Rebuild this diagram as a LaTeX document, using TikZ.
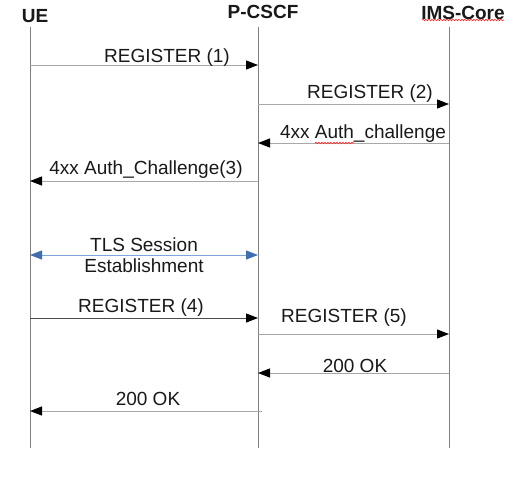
\documentclass[tikz,border=0pt]{standalone}
\usepackage{fontspec}
\setmainfont{Liberation Sans}
\usetikzlibrary{arrows.meta,decorations.pathmorphing}
\definecolor{tlsline}{HTML}{7FA6D8}
\definecolor{tlshead}{HTML}{3F6FB0}
\definecolor{lifegray}{HTML}{808080}
\definecolor{msggray}{HTML}{A8A8A8}
\begin{document}
\begin{tikzpicture}[x=1pt,y=-1pt,
  lifeline/.style={draw=lifegray,line width=1pt},
  msg/.style={draw=msggray,line width=1pt,-{Triangle[length=12pt,width=9pt,color=black]}},
  msgdark/.style={draw=black!70,line width=1pt,-{Triangle[length=12pt,width=9pt,color=black]}},
  tls/.style={draw=tlsline,line width=1pt,{Triangle[length=12pt,width=9pt,color=tlshead]}-{Triangle[length=12pt,width=9pt,color=tlshead]}},
  lbl/.style={font=\fontsize{19}{21}\selectfont,text=black!90,inner sep=0pt},
  hdr/.style={font=\fontsize{19}{21}\selectfont\bfseries,text=black!90,inner sep=0pt},
  squiggle/.style={draw=red!85,line width=0.6pt,decorate,decoration={snake,amplitude=0.8pt,segment length=3pt}}
]
\useasboundingbox[fill=white] (0,0) rectangle (526,477);
% headers
\node[hdr] (ue) at (35,16) {UE};
\node[hdr] (pc) at (263,12) {P-CSCF};
\node[hdr] (ims) at (463,13) {IMS-Core};
% lifelines
\coordinate (ueT) at (30,27);  \coordinate (ueB) at (30,448);
\coordinate (pcT) at (258,27); \coordinate (pcB) at (258,448);
\coordinate (imT) at (449,27); \coordinate (imB) at (449,448);
\draw[lifeline] (ueT) -- (ueB);
\draw[lifeline] (pcT) -- (pcB);
\draw[lifeline] (imT) -- (imB);
% squiggles
\draw[squiggle] (422,20) -- (504,20);
% message endpoints
\coordinate (a1) at (30,65);   \coordinate (b1) at (258,65);
\coordinate (a2) at (258,104); \coordinate (b2) at (449,104);
\coordinate (a3) at (449,143); \coordinate (b3) at (258,143);
\coordinate (a4) at (258,181); \coordinate (b4) at (30,181);
\coordinate (a5) at (30,255);  \coordinate (b5) at (258,255);
\coordinate (a6) at (30,318);  \coordinate (b6) at (258,318);
\coordinate (a7) at (258,334); \coordinate (b7) at (449,334);
\coordinate (a8) at (449,373); \coordinate (b8) at (258,373);
\coordinate (a9) at (262,411); \coordinate (b9) at (30,411);
\draw[msg] (a1) -- (b1);
\draw[msg] (a2) -- (b2);
\draw[msg] (a3) -- (b3);
\draw[msg] (a4) -- (b4);
\draw[tls] (a5) -- (b5);
\draw[msgdark] (a6) -- (b6);
\draw[msg] (a7) -- (b7);
\draw[msg] (a8) -- (b8);
\draw[msg] (a9) -- (b9);
% labels
\node[lbl] (l1) at (167,58) {REGISTER (1)};
\node[lbl] (l2) at (370,94) {REGISTER (2)};
\node[lbl] (l3) at (363,134) {4xx Auth\_challenge};
\draw[squiggle] (315,143) -- (354,143);
\node[lbl] (l4) at (146,170) {4xx Auth\_Challenge(3)};
\node[lbl] (l5a) at (144,245) {TLS Session};
\node[lbl] (l5b) at (144,266) {Establishment};
\node[lbl] (l6) at (141,308) {REGISTER (4)};
\node[lbl] (l7) at (344,318) {REGISTER (5)};
\node[lbl] (l8) at (355,366) {200 OK};
\node[lbl] (l9) at (148,399) {200 OK};
\end{tikzpicture}
\end{document}
